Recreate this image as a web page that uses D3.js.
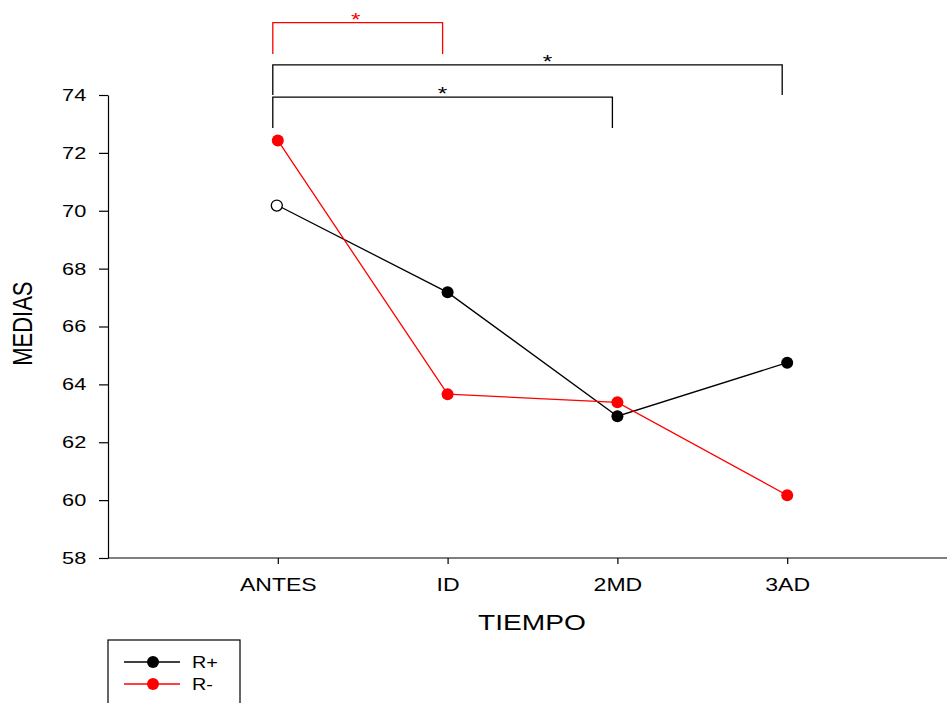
<html>
<head>
<meta charset="utf-8">
<style>
body { margin: 0; background: #fff; }
svg { font-family: "Liberation Sans", Arial, sans-serif; }
.axis path, .axis line { stroke: #000; stroke-width: 1.2; }
.axis text { fill: #000; font-family: "Liberation Sans", Arial, sans-serif; }
.title { font-size: 22px; fill: #000; }
</style>
</head>
<body>
<svg width="947" height="703"></svg>
<script src="https://cdn.jsdelivr.net/npm/d3@7"></script>
<script>

// data
var categories = ["ANTES", "ID", "2MD", "3AD"];
var rPlus  = [70.18, 67.18, 62.90, 64.75];
var rMinus = [72.43, 63.66, 63.38, 60.17];
var yTicks = [58, 60, 62, 64, 66, 68, 70, 72, 74];
var seriesNames = ["R+", "R-"];
var seriesColors = ["#000", "#ff0000"];

// significance brackets (from, to, top value, bottom value)
var brackets = [
  {from: "ANTES", to: "ID",  top: 76.5,  bottom: 75.42, color: "#ff0000", shift: -2},
  {from: "ANTES", to: "3AD", top: 75.04, bottom: 74.0,  color: "#000", shift: 20},
  {from: "ANTES", to: "2MD", top: 73.93, bottom: 72.86, color: "#000", shift: 0}
];

var svg = d3.select("svg");
var mLeft = 108, mBottom = 558, mTop = 95;
var stretch = 1.28; // the original picture is wider than tall, text looks stretched

// x axis runs past the right edge of the picture
var x = d3.scalePoint()
  .domain(categories)
  .range([mLeft, mLeft + 849])
  .padding(1);

var y = d3.scaleLinear()
  .domain([58, 74])
  .range([mBottom, mTop]);

//axes
var gx = svg.append("g")
  .attr("class", "axis")
  .attr("transform", "translate(0," + mBottom + ")")
  .call(d3.axisBottom(x).tickSize(6).tickPadding(14).tickSizeOuter(0));
gx.select(".domain").attr("d", "M" + mLeft + ",0H947");
gx.selectAll("text")
  .attr("font-size", 18)
  .attr("transform", "scale(" + stretch + ",1)");

var gy = svg.append("g")
  .attr("class", "axis")
  .attr("transform", "translate(" + mLeft + ",0)")
  .call(d3.axisLeft(y).tickValues(yTicks).tickSize(9).tickPadding(8).tickSizeOuter(0));
gy.selectAll("text")
  .attr("font-size", 17)
  .attr("transform", "scale(" + stretch + ",1)");

svg.append("g")
  .attr("transform", "translate(532,630)")
  .append("text").attr("class", "title")
  .attr("text-anchor", "middle")
  .attr("transform", "scale(" + stretch + ",1)")
  .text("TIEMPO");

svg.append("text").attr("class", "title")
  .attr("font-size", 21)
  .attr("transform", "translate(32," + y(66.1) + ") scale(" + stretch + ",1) rotate(-90)")
  .attr("text-anchor", "middle")
  .text("MEDIAS");

//series
var series = [rPlus, rMinus];
var line = d3.line()
  .x(function(d, i) { return x(categories[i]); })
  .y(function(d) { return y(d); });

series.forEach(function(vals, s) {
  svg.append("path")
    .datum(vals)
    .attr("d", line)
    .attr("fill", "none")
    .attr("stroke", seriesColors[s])
    .attr("stroke-width", 1.3);
});

series.forEach(function(vals, s) {
  svg.selectAll(".pt" + s)
    .data(vals)
    .enter().append("circle")
    .attr("cx", function(d, i) { return x(categories[i]) - (s == 0 && i == 0 ? 1 : 0); })
    .attr("cy", function(d) { return y(d); })
    .attr("r", function(d, i) { return (s == 0 && i == 0) ? 5.5 : 6; })
    .attr("fill", function(d, i) { return (s == 0 && i == 0) ? "#fff" : seriesColors[s]; })
    .attr("stroke", seriesColors[s])
    .attr("stroke-width", function(d, i) { return (s == 0 && i == 0) ? 1.3 : 0; });
});

//brackets
brackets.forEach(function(b) {
  var x0 = x(b.from) - 5, x1 = x(b.to) - 5;
  svg.append("path")
    .attr("d", "M" + x0 + "," + y(b.bottom) + "V" + y(b.top) + "H" + x1 + "V" + y(b.bottom))
    .attr("fill", "none")
    .attr("stroke", b.color)
    .attr("stroke-width", 1.3);
  svg.append("g")
    .attr("transform", "translate(" + ((x0 + x1) / 2 + b.shift) + "," + (y(b.top) + 3) + ")")
    .append("text")
    .attr("transform", "scale(" + stretch + ",1)")
    .attr("text-anchor", "middle")
    .attr("font-size", 19)
    .attr("fill", b.color)
    .text("*");
});

//legend
var leg = svg.append("g");
leg.append("rect")
  .attr("x", 108).attr("y", 640)
  .attr("width", 132).attr("height", 80)
  .attr("fill", "none").attr("stroke", "#000").attr("stroke-width", 1.2);

seriesNames.forEach(function(name, i) {
  var ly = 662 + i * 22;
  leg.append("line")
    .attr("x1", 124).attr("x2", 180)
    .attr("y1", ly).attr("y2", ly)
    .attr("stroke", seriesColors[i]).attr("stroke-width", 1.3);
  leg.append("circle")
    .attr("cx", 153).attr("cy", ly).attr("r", 6)
    .attr("fill", seriesColors[i]);
  leg.append("g")
    .attr("transform", "translate(192," + (ly + 6) + ")")
    .append("text")
    .attr("transform", "scale(1.2,1)")
    .attr("font-size", 16.5)
    .text(name);
});

</script>
</body>
</html>
